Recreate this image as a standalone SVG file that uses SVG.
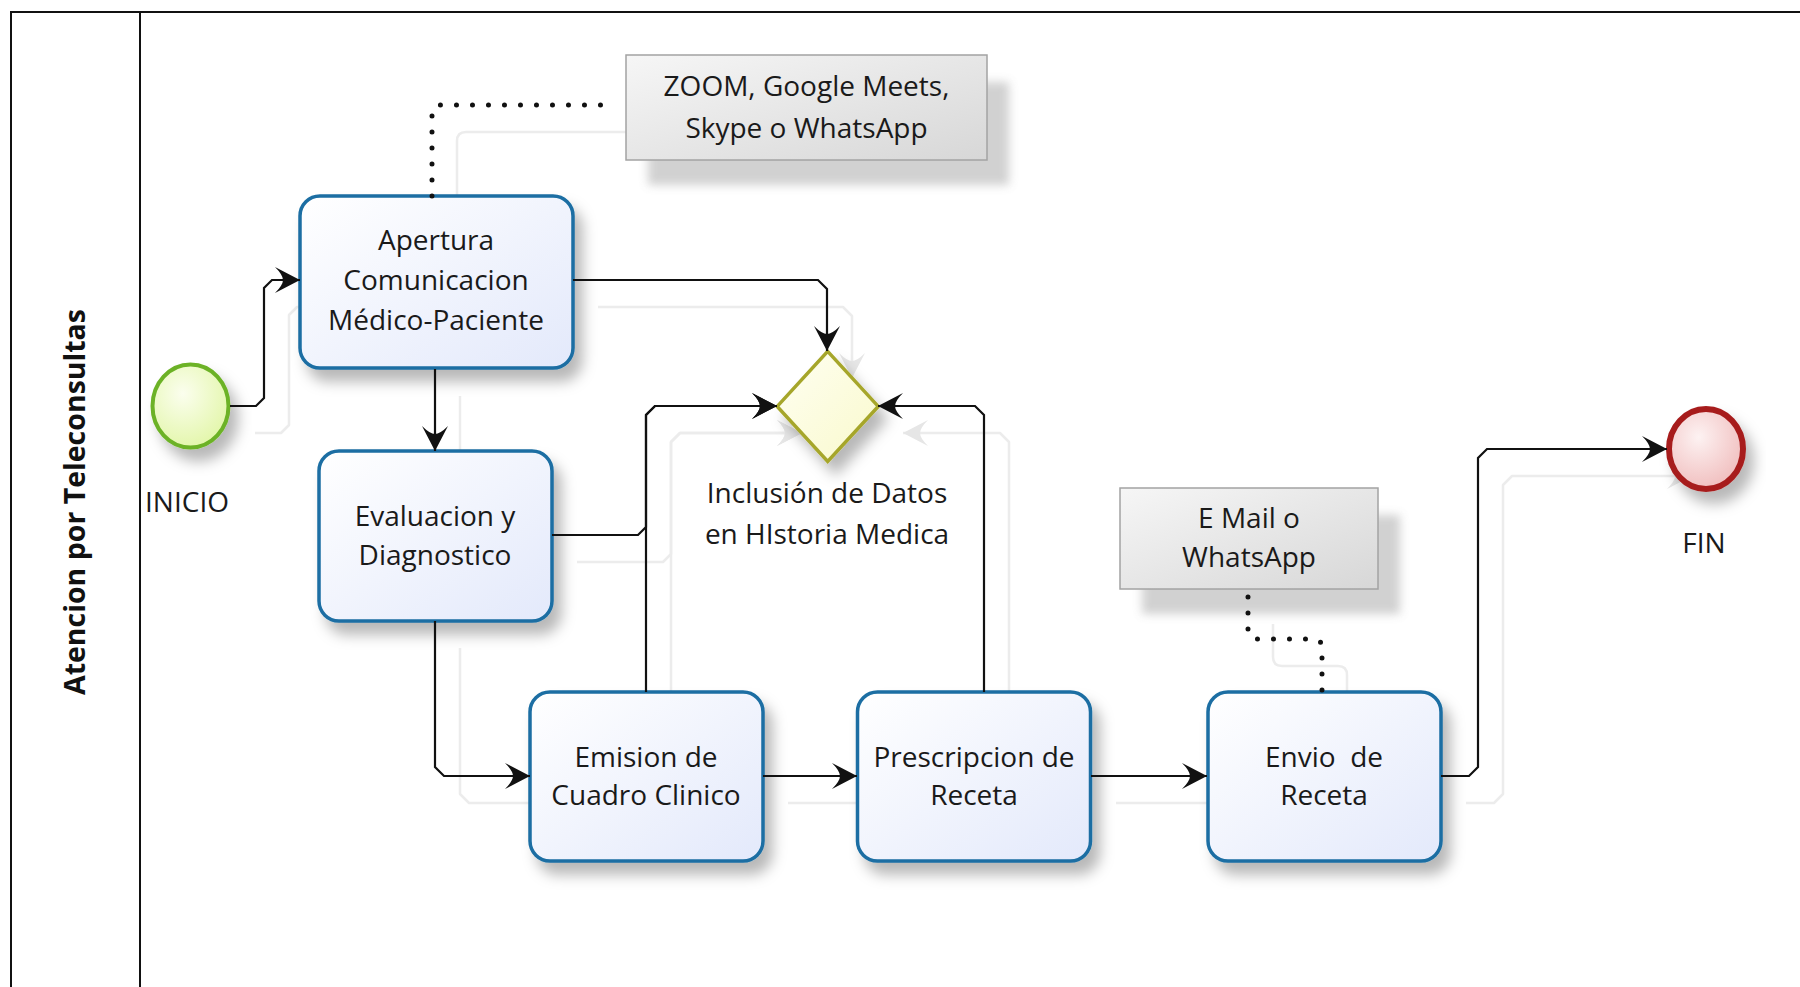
<svg xmlns="http://www.w3.org/2000/svg" width="1800" height="987" viewBox="0 0 1800 987">
  <defs>
    <style>
      .frame { fill: none; stroke: #111; stroke-width: 2; }
      .task { fill: url(#taskFill); stroke: #1b6ea3; stroke-width: 3.5; filter: url(#soft); }
      .note { fill: url(#noteFill); stroke: #a3a3a3; stroke-width: 1.5; }
      .noteShade { fill: #9a9a9a; opacity: 0.45; filter: url(#blur); }
      .lbl { font-family: "Open Sans", "DejaVu Sans", sans-serif; font-size: 28px; fill: #1a1a1a; text-anchor: middle; }
      .lane { font-family: "Open Sans", "DejaVu Sans", sans-serif; font-size: 28.5px; font-weight: bold; fill: #111; text-anchor: middle; }
      .flow { fill: none; stroke: #111; stroke-width: 2.2; marker-end: url(#arrow); }
      .assoc { fill: none; stroke: #111; stroke-width: 5; stroke-dasharray: 0 16; stroke-linecap: round; }
      .ghost { fill: none; stroke: #ececec; stroke-width: 2.5; stroke-linejoin: round; }
      .ghost.arr { marker-end: url(#ghostArrow); }
    </style>
    <linearGradient id="taskFill" x1="0" y1="0" x2="1" y2="1">
      <stop offset="0" stop-color="#ffffff"/>
      <stop offset="1" stop-color="#e3e9fb"/>
    </linearGradient>
    <linearGradient id="noteFill" x1="0" y1="0" x2="1" y2="1">
      <stop offset="0" stop-color="#f6f6f6"/>
      <stop offset="1" stop-color="#d7d7d7"/>
    </linearGradient>
    <radialGradient id="startFill" cx="0.4" cy="0.35" r="0.7">
      <stop offset="0" stop-color="#fbfeee"/>
      <stop offset="1" stop-color="#e2f6a8"/>
    </radialGradient>
    <radialGradient id="endFill" cx="0.4" cy="0.35" r="0.7">
      <stop offset="0" stop-color="#fdf2f2"/>
      <stop offset="1" stop-color="#f0bcbc"/>
    </radialGradient>
    <linearGradient id="gateFill" x1="0" y1="0" x2="1" y2="1">
      <stop offset="0" stop-color="#fffff2"/>
      <stop offset="1" stop-color="#f9f9cc"/>
    </linearGradient>
    <filter id="soft" x="-20%" y="-20%" width="150%" height="160%">
      <feDropShadow dx="8" dy="12" stdDeviation="7" flood-color="#000" flood-opacity="0.28"/>
    </filter>
    <filter id="blur" x="-20%" y="-30%" width="140%" height="160%">
      <feGaussianBlur stdDeviation="5"/>
    </filter>
    <marker id="arrow" markerUnits="userSpaceOnUse" markerWidth="30" markerHeight="30" viewBox="-27 -15 30 30" refX="0" refY="0" orient="auto">
      <path d="M0,0 L-25,-13 Q-17,-5 -17,0 Q-17,5 -25,13 Z" fill="#111"/>
    </marker>
    <marker id="ghostArrow" markerUnits="userSpaceOnUse" markerWidth="30" markerHeight="30" viewBox="-27 -15 30 30" refX="0" refY="0" orient="auto">
      <path d="M0,0 L-25,-13 Q-17,-5 -17,0 Q-17,5 -25,13 Z" fill="#e6e6e6"/>
    </marker>
  </defs>

  <rect width="1800" height="987" fill="#ffffff"/>

  <!-- pool frame and lane header -->
  <g id="pool">
    <path class="frame" d="M11,987 V12 H1800"/>
    <path class="frame" d="M140,12 V987"/>
    <text class="lane" transform="translate(85,502) rotate(-90)">Atencion por Teleconsultas</text>
  </g>

  <!-- faint offset echo of the flows -->
  <g id="connector-echo" transform="translate(25,27)">
    <path class="ghost arr" d="M230,406 H256 L264,398 V288 L272,280 H300"/>
    <path class="ghost arr" d="M573,280 H818 L827,289 V351"/>
    <path class="ghost arr" d="M435,369 V451"/>
    <path class="ghost arr" d="M552,535 H638 L646,527 V415 L655,406 H777"/>
    <path class="ghost arr" d="M646,692 V415 L655,406 H777"/>
    <path class="ghost arr" d="M984,692 V415 L975,406 H878"/>
    <path class="ghost arr" d="M435,621 V767 L444,776 H530"/>
    <path class="ghost arr" d="M763,776 H857"/>
    <path class="ghost arr" d="M1091,776 H1207"/>
    <path class="ghost arr" d="M1441,776 H1469 L1478,767 V458 L1487,449 H1667"/>
    <path class="ghost" d="M432,196 V114 Q432,105 441,105 H612"/>
    <path class="ghost" d="M1248,597 V630 Q1248,639 1257,639 H1313 Q1322,639 1322,648 V692"/>
  </g>

  <!-- start event -->
  <g id="start">
    <ellipse cx="190.5" cy="406" rx="38" ry="41.5" fill="url(#startFill)" stroke="#6cb226" stroke-width="4" filter="url(#soft)"/>
    <text class="lbl" x="187" y="512">INICIO</text>
  </g>

  <!-- tasks -->
  <g id="apertura">
    <rect class="task" x="300" y="196" width="273" height="172" rx="20"/>
    <text class="lbl" x="436" y="250">Apertura</text>
    <text class="lbl" x="436" y="290">Comunicacion</text>
    <text class="lbl" x="436" y="330">Médico-Paciente</text>
  </g>

  <g id="evaluacion">
    <rect class="task" x="319" y="451" width="233" height="170" rx="20"/>
    <text class="lbl" x="435" y="526">Evaluacion y</text>
    <text class="lbl" x="435" y="565">Diagnostico</text>
  </g>

  <g id="emision">
    <rect class="task" x="530" y="692" width="233" height="169" rx="20"/>
    <text class="lbl" x="646" y="767">Emision de</text>
    <text class="lbl" x="646" y="805">Cuadro Clinico</text>
  </g>

  <g id="prescripcion">
    <rect class="task" x="857.5" y="692" width="233" height="169" rx="20"/>
    <text class="lbl" x="974" y="767">Prescripcion de</text>
    <text class="lbl" x="974" y="805">Receta</text>
  </g>

  <g id="envio">
    <rect class="task" x="1208" y="692" width="233" height="169" rx="20"/>
    <text class="lbl" x="1324" y="767" xml:space="preserve">Envio  de</text>
    <text class="lbl" x="1324" y="805">Receta</text>
  </g>

  <!-- gateway -->
  <g id="gateway">
    <polygon points="827.7,351.4 878.2,406.4 827.7,461.4 777.2,406.4" fill="url(#gateFill)" stroke="#a6a62b" stroke-width="3.5" stroke-linejoin="miter" filter="url(#soft)"/>
    <text class="lbl" x="827" y="503">Inclusión de Datos</text>
    <text class="lbl" x="827" y="544">en HIstoria Medica</text>
  </g>

  <!-- end event -->
  <g id="end">
    <ellipse cx="1706" cy="449" rx="37" ry="40" fill="url(#endFill)" stroke="#a71d1d" stroke-width="6" filter="url(#soft)"/>
    <text class="lbl" x="1704" y="553">FIN</text>
  </g>

  <!-- annotations -->
  <g id="note-plataformas">
    <rect class="noteShade" x="648" y="82" width="361" height="103"/>
    <rect class="note" x="626" y="55" width="361" height="105"/>
    <text class="lbl" x="806.5" y="96">ZOOM, Google Meets,</text>
    <text class="lbl" x="806.5" y="138">Skype o WhatsApp</text>
  </g>

  <g id="note-envio">
    <rect class="noteShade" x="1142" y="515" width="258" height="99"/>
    <rect class="note" x="1120" y="488" width="258" height="101"/>
    <text class="lbl" x="1249" y="528">E Mail o</text>
    <text class="lbl" x="1249" y="567">WhatsApp</text>
  </g>

  <!-- sequence flows and associations -->
  <g id="connectors">
    <path class="flow" d="M230,406 H256 L264,398 V288 L272,280 H300"/>
    <path class="flow" d="M573,280 H818 L827,289 V351"/>
    <path class="flow" d="M435,369 V451"/>
    <path class="flow" d="M552,535 H638 L646,527 V415 L655,406 H777"/>
    <path class="flow" d="M646,692 V415 L655,406 H777"/>
    <path class="flow" d="M984,692 V415 L975,406 H878"/>
    <path class="flow" d="M435,621 V767 L444,776 H530"/>
    <path class="flow" d="M763,776 H857"/>
    <path class="flow" d="M1091,776 H1207"/>
    <path class="flow" d="M1441,776 H1469 L1478,767 V458 L1487,449 H1667"/>
    <path class="assoc" d="M432,196 V114 Q432,105 441,105 H612"/>
    <path class="assoc" d="M1248,597 V630 Q1248,639 1257,639 H1313 Q1322,639 1322,648 V692"/>
  </g>
</svg>
